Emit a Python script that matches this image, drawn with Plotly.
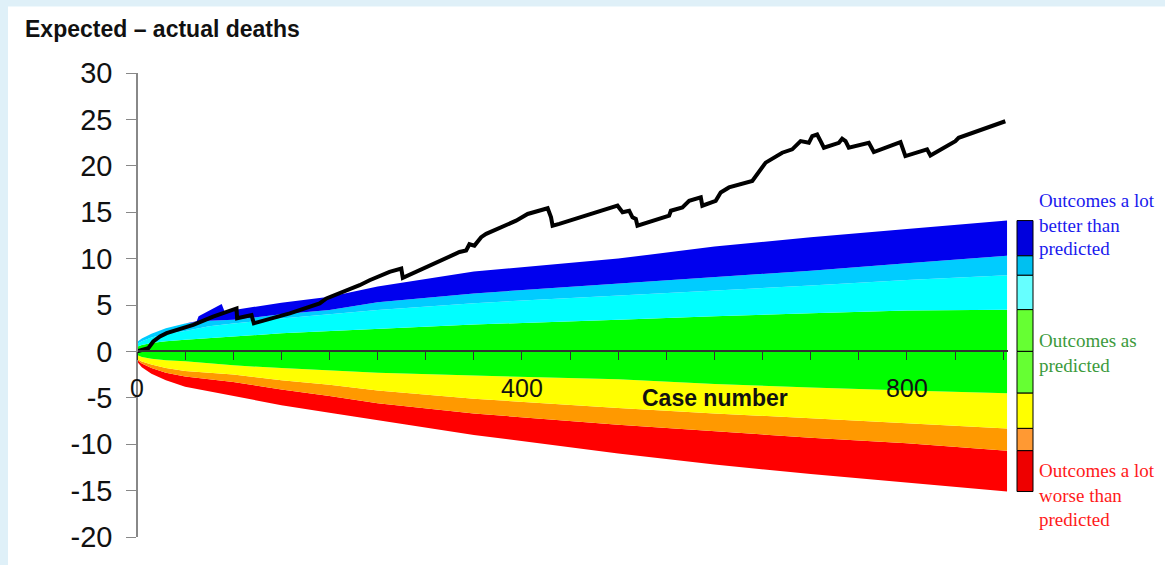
import plotly.graph_objects as go

# ---------------- data ----------------
# case numbers at which the funnel boundaries were read
n_band = [0, 5, 15, 30, 50, 75, 100, 150, 200, 250, 350, 500, 600, 700, 800, 904]
blue_sky = [1.0, 1.4, 1.9, 2.5, 3.0, 3.3, 3.4, 4.0, 4.45, 5.3, 6.25, 7.3, 8.0, 8.7, 9.5, 10.3]
sky_cyan = [0.8, 1.1, 1.5, 1.9, 2.2, 2.7, 3.0, 3.55, 4.0, 4.45, 5.2, 6.0, 6.6, 7.1, 7.7, 8.2]
cyan_green = [0.5, 0.7, 0.9, 1.1, 1.25, 1.4, 1.6, 1.95, 2.2, 2.45, 2.9, 3.4, 3.8, 4.1, 4.4, 4.5]
green_yellow = [-0.4, -0.6, -0.8, -0.95, -1.07, -1.3, -1.5, -1.8, -2.07, -2.3, -2.6, -3.0, -3.5, -3.9, -4.2, -4.5]
yellow_orange = [-0.8, -1.1, -1.4, -1.8, -2.1, -2.3, -2.5, -3.1, -3.6, -4.2, -5.1, -6.1, -6.7, -7.2, -7.7, -8.3]
orange_red = [-0.9, -1.3, -1.8, -2.3, -2.7, -3.0, -3.3, -4.1, -4.8, -5.6, -6.7, -7.9, -8.6, -9.3, -9.9, -10.7]
red_bottom = [-1.1, -1.7, -2.4, -3.1, -3.8, -4.3, -4.8, -5.8, -6.6, -7.4, -9.0, -11.0, -12.2, -13.2, -14.1, -15.1]

n_top = [0, 5, 15, 30, 50, 62, 64, 75, 88, 91, 100, 150, 200, 250, 350, 500, 600, 700, 800, 904]
blue_top = [1.0, 1.4, 1.9, 2.5, 3.0, 3.25, 3.8, 4.4, 5.1, 4.3, 4.45, 5.25, 5.9, 7.0, 8.6, 10.0, 11.3, 12.3, 13.2, 14.1]

# observed cumulative expected - actual deaths (VLAD line)
case_no = [0, 11.7, 16.9, 23.9, 30.8, 58.4, 79.1, 96.5, 103.4, 104.0, 113.8, 119.0, 121.4,
           134.5, 158.7, 189.8, 196.8, 231.3, 241.7, 262.4, 274.6, 276.2, 290.1, 321.3,
           335.1, 342.0, 345.4, 350.6, 357.6, 362.8, 393.9, 405.9, 426.7, 430.2, 431.8,
           438.8, 466.5, 499.3, 504.5, 511.4, 514.8, 518.3, 520.0, 549.5, 552.9, 554.7,
           566.7, 573.7, 585.8, 587.4, 601.3, 606.5, 615.1, 639.3, 642.8, 649.7, 653.2,
           670.4, 680.8, 689.5, 698.1, 701.6, 706.7, 710.3, 713.7, 729.3, 732.7, 736.2,
           739.6, 760.4, 765.6, 793.3, 798.4, 820.9, 824.4, 850.3, 853.7, 902.2]
exp_minus_act = [0, 0.35, 1.07, 1.61, 1.96, 2.85, 3.75, 4.35, 4.63, 3.57, 3.75, 3.92, 3.03,
                 3.38, 4.10, 5.17, 5.71, 7.13, 7.67, 8.57, 8.92, 7.92, 8.57, 9.99,
                 10.71, 10.88, 11.55, 11.40, 12.31, 12.67, 14.09, 14.81, 15.42, 14.45, 13.55,
                 13.74, 14.63, 15.70, 14.99, 15.16, 14.45, 14.27, 13.55, 14.45, 14.63, 15.16,
                 15.52, 16.23, 16.60, 15.70, 16.23, 17.13, 17.67, 18.37, 18.91, 19.81, 20.34,
                 21.41, 21.77, 22.66, 22.48, 23.19, 23.37, 22.66, 21.95, 22.48, 22.91, 22.66,
                 21.95, 22.48, 21.48, 22.55, 21.05, 21.77, 21.12, 22.66, 23.02, 24.80]

y_ticks = [-20, -15, -10, -5, 0, 5, 10, 15, 20, 25, 30]
y_tick_labels = ["-20", "-15", "-10", "-5", "0", "5", "10", "15", "20", "25", "30"]

band_colors = ["#ff0000", "#ff9900", "#ffff00", "#00ff00", "#00ffff", "#00ccff", "#0000ee"]
key_colors = ["#0000dd", "#00c0f0", "#66ffff", "#66ff33", "#66ff33", "#ffff00", "#ff9933", "#ee0000"]

# ---------------- geometry helpers ----------------
W, H = 1165, 565
ML, MR, MT, MB = 137, 157, 73, 25
PW, PH = W - ML - MR, H - MT - MB


def pxx(x):
    return (x - ML) / PW


def pxy(y):
    return (H - MB - y) / PH


fig = go.Figure()

# ---------------- funnel bands ----------------
bounds = [(n_band, red_bottom), (n_band, orange_red), (n_band, yellow_orange),
          (n_band, green_yellow), (n_band, cyan_green), (n_band, sky_cyan),
          (n_band, blue_sky), (n_top, blue_top)]
for i, (xs, ys) in enumerate(bounds):
    fig.add_trace(go.Scatter(
        x=xs, y=ys, mode="lines", line=dict(width=0),
        fill=None if i == 0 else "tonexty",
        fillcolor=None if i == 0 else band_colors[i - 1],
        hoverinfo="skip", showlegend=False))

# ---------------- observed line ----------------
fig.add_trace(go.Scatter(x=case_no, y=exp_minus_act, mode="lines",
                         line=dict(color="black", width=4),
                         hoverinfo="skip", showlegend=False))

# ---------------- shapes ----------------
shapes = [dict(type="rect", xref="paper", yref="paper", x0=pxx(8), x1=pxx(W + 5),
               y0=pxy(H + 5), y1=pxy(6), fillcolor="white", line=dict(width=0),
               layer="below")]
key_bounds = [blue_top[-1], blue_sky[-1], sky_cyan[-1], cyan_green[-1], 0,
              green_yellow[-1], yellow_orange[-1], orange_red[-1], red_bottom[-1]]
for i in range(len(key_colors)):
    shapes.append(dict(type="rect", xref="paper", yref="y",
                       x0=pxx(1017), x1=pxx(1033),
                       y0=key_bounds[i + 1], y1=key_bounds[i],
                       fillcolor=key_colors[i], line=dict(color="black", width=1)))

# ---------------- annotations ----------------
ann = [
    dict(text="<b>Expected – actual deaths</b>", xref="paper", yref="paper",
         x=pxx(23), y=pxy(29), xanchor="left", yanchor="middle", showarrow=False,
         font=dict(family="Arial, Liberation Sans", size=23, color="#111")),
    dict(text="<b>Case number</b>", xref="x", yref="y", x=601, y=-5.0,
         xanchor="center", yanchor="middle", showarrow=False,
         font=dict(family="Arial, Liberation Sans", size=23, color="#111")),
]
serif = "Times New Roman, Liberation Serif"
legend_text = [
    (["Outcomes a lot", "better than", "predicted"], [201, 226, 250], "#1a1aee"),
    (["Outcomes as", "predicted"], [342, 367], "#3c9a3c"),
    (["Outcomes a lot", "worse than", "predicted"], [473, 498, 522], "#ff1a1a"),
]
for lines, ys, col in legend_text:
    for t, yy in zip(lines, ys):
        ann.append(dict(text=t, xref="paper", yref="paper", x=pxx(1037), y=pxy(yy),
                        xanchor="left", yanchor="middle", showarrow=False,
                        font=dict(family=serif, size=19, color=col)))

fig.update_layout(
    width=W, height=H,
    margin=dict(l=ML, r=MR, t=MT, b=MB, pad=0),
    paper_bgcolor="#dff0f8", plot_bgcolor="rgba(0,0,0,0)",
    showlegend=False, hovermode=False,
    shapes=shapes, annotations=ann,
    xaxis=dict(range=[0, 905], anchor="free", position=20 / 50,
               showgrid=False, zeroline=False,
               showline=True, linecolor="#333", linewidth=1.5,
               ticks="outside", ticklen=8, tickwidth=1.2, tickcolor="#333",
               tick0=0, dtick=50, ticklabelstep=8, ticklabelstandoff=7,
               tickfont=dict(family="Arial, Liberation Sans", size=25, color="#111")),
    yaxis=dict(range=[-20, 30], anchor="free", position=0,
               showgrid=False, zeroline=False,
               showline=True, linecolor="#888", linewidth=1.5,
               ticks="outside", ticklen=10, tickwidth=1.2, tickcolor="#888",
               tickvals=y_ticks, ticktext=y_tick_labels, ticklabelstandoff=8,
               tickfont=dict(family="Arial, Liberation Sans", size=29, color="#111")),
)

fig.write_html(
    "out.html",
    config={"displayModeBar": False},
    post_script="document.body.style.margin='0';document.body.style.overflow='hidden';"
                "document.body.style.background='#dff0f8';",
)
